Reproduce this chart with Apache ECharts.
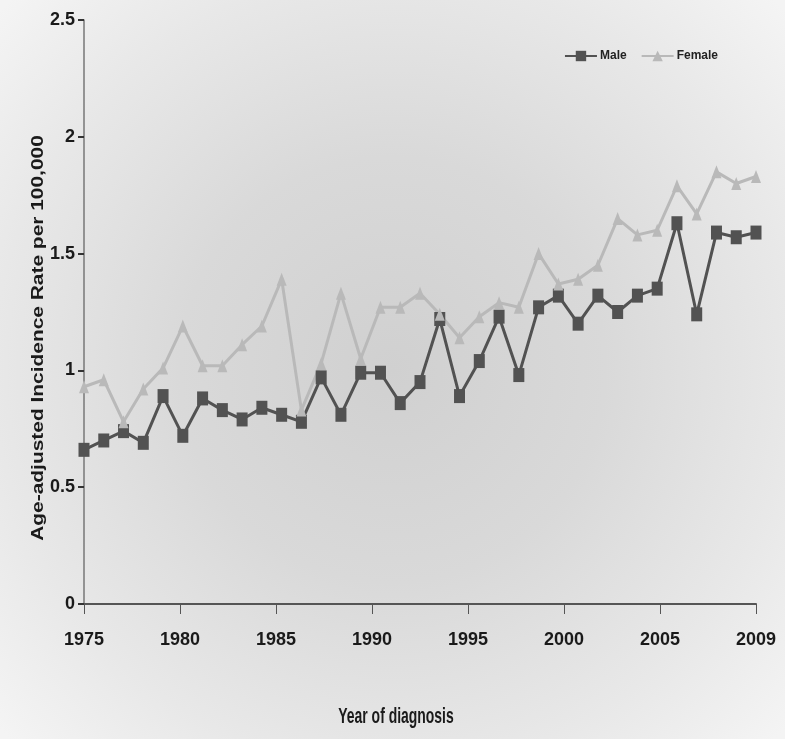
<!DOCTYPE html>
<html>
<head>
<meta charset="utf-8">
<script src="https://cdn.jsdelivr.net/npm/echarts@6/dist/echarts.min.js"></script>
<style>html,body{margin:0;padding:0;background:#fff}#c{width:785px;height:739px}</style>
</head>
<body>
<div id="c"></div>
<script>
const years = ['1975','1976','1977','1978','1979','1980','1981','1982','1983','1984','1985','1986','1987','1988','1989','1990','1991','1992','1993','1994','1995','1996','1997','1998','1999','2000','2001','2002','2003','2004','2005','2006','2007','2008','2009'];
const male = [0.66,0.70,0.74,0.69,0.89,0.72,0.88,0.83,0.79,0.84,0.81,0.78,0.97,0.81,0.99,0.99,0.86,0.95,1.22,0.89,1.04,1.23,0.98,1.27,1.32,1.20,1.32,1.25,1.32,1.35,1.63,1.24,1.59,1.57,1.59];
const female = [0.93,0.96,0.78,0.92,1.01,1.19,1.02,1.02,1.11,1.19,1.39,0.83,1.03,1.33,1.05,1.27,1.27,1.33,1.24,1.14,1.23,1.29,1.27,1.50,1.37,1.39,1.45,1.65,1.58,1.60,1.79,1.67,1.85,1.80,1.83];
const tickLabels = ['1975','1980','1985','1990','1995','2000','2005','2009'];
const yTitle = 'Age-adjusted Incidence Rate per 100,000';
const xTitle = 'Year of diagnosis';

const sans = "'Liberation Sans', Arial, sans-serif";
const chart = echarts.init(document.getElementById('c'));
chart.setOption({
  animation: false,
  backgroundColor: {
    type: 'radial', x: 0.5, y: 0.5, r: 0.72,
    colorStops: [
      {offset: 0, color: '#d0d0d0'},
      {offset: 0.4, color: '#d9d9d9'},
      {offset: 0.75, color: '#e8e8e8'},
      {offset: 1, color: '#f4f4f4'}
    ]
  },
  grid: {left: 84, right: 29, top: 20, bottom: 135, containLabel: false},
  legend: {
    right: 62, top: 45,
    itemWidth: 32, itemHeight: 13, itemGap: 14,
    textStyle: {fontFamily: sans, fontWeight: 'bold', fontSize: 12, color: '#222', padding: [0, 0, 0, -2]},
    data: ['Male', 'Female']
  },
  graphic: [{
    type: 'text', x: 38, y: 338, rotation: Math.PI / 2, scaleX: 1.23,
    style: {
      text: yTitle, textAlign: 'center', textVerticalAlign: 'middle',
      font: "bold 17px 'Liberation Sans', Arial, sans-serif", fill: '#1a1a1a'
    }
  }, {
    type: 'text', x: 396, y: 717, scaleX: 0.82, scaleY: 1.35,
    style: {
      text: xTitle, textAlign: 'center', textVerticalAlign: 'middle',
      font: "bold 17px 'Liberation Sans', Arial, sans-serif", fill: '#1a1a1a'
    }
  }],
  xAxis: [{
    type: 'category', data: years, boundaryGap: false, show: false
  }, {
    type: 'value', min: 0, max: 7, interval: 1, position: 'bottom',
    axisLine: {show: true, lineStyle: {color: '#555', width: 2}},
    axisTick: {show: true, length: 10, lineStyle: {color: '#555', width: 1}},
    splitLine: {show: false},
    axisLabel: {
      margin: 27, fontFamily: sans, fontWeight: 'bold', fontSize: 18, color: '#1a1a1a',
      formatter: v => tickLabels[v]
    }
  }],
  yAxis: {
    type: 'value', min: 0, max: 2.5, interval: 0.5,
    axisLine: {show: true, lineStyle: {color: '#777', width: 1.5}},
    axisTick: {show: true, inside: false, length: 6, lineStyle: {color: '#333', width: 2}},
    splitLine: {show: false},
    axisLabel: {
      margin: 9, fontFamily: sans, fontWeight: 'bold', fontSize: 18, color: '#1a1a1a',
      formatter: v => String(v)
    }
  },
  series: [{
    name: 'Male', type: 'line', data: male, xAxisIndex: 0,
    showAllSymbol: true,
    symbol: 'rect', symbolSize: [11, 14],
    itemStyle: {color: '#525252'},
    lineStyle: {color: '#525252', width: 3}
  }, {
    name: 'Female', type: 'line', data: female, xAxisIndex: 0,
    showAllSymbol: true,
    symbol: 'triangle', symbolSize: [10, 13],
    itemStyle: {color: '#b9b9b9'},
    lineStyle: {color: '#b9b9b9', width: 3}
  }]
});
</script>
</body>
</html>
